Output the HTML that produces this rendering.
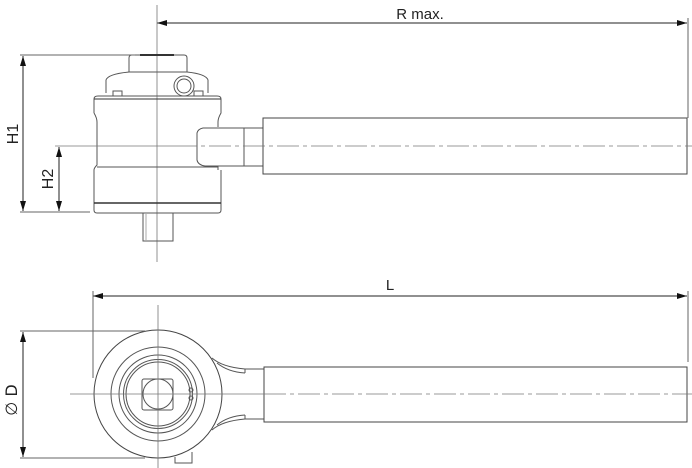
<!DOCTYPE html>
<html><head><meta charset="utf-8"><style>
html,body{margin:0;padding:0;background:#fff;}
svg{display:block;}
text{font-family:"Liberation Sans",sans-serif;fill:#222;}
</style></head><body>
<svg width="692" height="468" viewBox="0 0 692 468" xmlns="http://www.w3.org/2000/svg">
<defs>
<marker id="a" viewBox="0 0 10 6" refX="10" refY="3" markerWidth="10" markerHeight="6" orient="auto-start-reverse" markerUnits="userSpaceOnUse"><path d="M0,0L10,3L0,6z" fill="#111"/></marker>
</defs>
<g fill="none" stroke="#555" stroke-width="1">
<line x1="157" y1="23" x2="687" y2="23" stroke="#222" marker-start="url(#a)" marker-end="url(#a)"/>
<line x1="688" y1="18" x2="688" y2="118" stroke="#666"/>
<line x1="157" y1="5" x2="157" y2="262" stroke="#777" stroke-width="0.8"/>
<path d="M129,72 L129,58 Q129,55 132,55 L184,55 Q187,55 187,58 L187,72" stroke="#555"/>
<line x1="140" y1="55" x2="174" y2="55" stroke="#333" stroke-width="2"/>
<path d="M106,93 L106,80 Q108,74 129,72 L187,72 Q206,74 208,80 L208,93"/>
<circle cx="184" cy="86" r="10"/><circle cx="184" cy="86" r="7"/>
<rect x="113" y="91" width="9" height="5"/><rect x="194" y="91" width="9" height="5"/>
<path d="M94,113 L94,99 Q94,96 98,96 L217,96 Q221,96 221,99 L221,113 Q218,118 218,122"/>
<line x1="94" y1="99" x2="221" y2="99" stroke="#333"/>
<path d="M94,113 Q97,118 97,122 L97,165 Q94,168 94,170"/>
<line x1="218" y1="122" x2="218" y2="127"/>
<line x1="218" y1="166" x2="218" y2="170"/>
<line x1="97" y1="167" x2="218" y2="167"/>
<path d="M94,170 L94,210 Q94,213 97,213 L218,213 Q221,213 221,210 L221,170"/>
<line x1="94" y1="203" x2="221" y2="203" stroke="#333" stroke-width="1.5"/>
<path d="M143,213 L143,241 L173,241 L173,213"/>
<line x1="146" y1="213" x2="146" y2="241" stroke="#aaa"/>
<path d="M263,128 L203,128 Q198,129 197,133 L197,160 Q198,165 205,166 L263,166"/>
<line x1="244" y1="128" x2="244" y2="166"/>
<rect x="263" y="118" width="424" height="56" stroke="#444"/>
<line x1="55" y1="146" x2="175" y2="146" stroke="#777" stroke-width="0.8"/>
<line x1="175" y1="146" x2="692" y2="146" stroke="#777" stroke-width="0.8" stroke-dasharray="22,4,4,4"/>
<line x1="20" y1="55" x2="135" y2="55" stroke="#666"/>
<line x1="20" y1="212" x2="90" y2="212" stroke="#666"/>
<line x1="23" y1="56" x2="23" y2="211" stroke="#222" marker-start="url(#a)" marker-end="url(#a)"/>
<line x1="59" y1="147" x2="59" y2="211" stroke="#222" marker-start="url(#a)" marker-end="url(#a)"/>

<line x1="93" y1="296" x2="687" y2="296" stroke="#222" marker-start="url(#a)" marker-end="url(#a)"/>
<line x1="93" y1="291" x2="93" y2="378" stroke="#666"/>
<line x1="688" y1="291" x2="688" y2="362" stroke="#666"/>
<path d="M212,358 Q222,367 245,369 L264,369"/>
<path d="M217,363 Q228,372 245,373"/>
<path d="M212,430 Q222,421 245,419 L264,419"/>
<path d="M217,425 Q228,416 245,415"/>
<line x1="245" y1="369" x2="245" y2="373"/><line x1="245" y1="415" x2="245" y2="419"/>
<circle cx="158" cy="394" r="64" stroke="#444" fill="#fff"/>
<circle cx="158" cy="394" r="47"/>
<circle cx="158" cy="394" r="39"/>
<circle cx="158" cy="394" r="34.5"/>
<circle cx="158" cy="394" r="32"/>
<rect x="142" y="379" width="31" height="31" rx="2"/>
<circle cx="158" cy="394" r="15"/>
<circle cx="191" cy="390" r="2"/><circle cx="191" cy="398" r="2"/>
<path d="M175,457 L175,463 L192,463 L192,452"/>
<rect x="264" y="367" width="423" height="55" stroke="#444"/>
<line x1="70" y1="394" x2="264" y2="394" stroke="#777" stroke-width="0.8"/>
<line x1="264" y1="394" x2="692" y2="394" stroke="#777" stroke-width="0.8" stroke-dasharray="22,4,4,4"/>
<line x1="158" y1="305" x2="158" y2="468" stroke="#777" stroke-width="0.8"/>
<line x1="20" y1="331" x2="145" y2="331" stroke="#666"/>
<line x1="20" y1="458" x2="145" y2="458" stroke="#666"/>
<line x1="23" y1="332" x2="23" y2="457" stroke="#222" marker-start="url(#a)" marker-end="url(#a)"/>
</g>
<text x="420" y="19" font-size="15" text-anchor="middle">R max.</text>
<text x="390" y="290" font-size="15" text-anchor="middle">L</text>
<text transform="translate(18,134) rotate(-90)" font-size="16" text-anchor="middle">H1</text>
<text transform="translate(53,179) rotate(-90)" font-size="16" text-anchor="middle">H2</text>
<text transform="translate(17,400) rotate(-90)" font-size="16" text-anchor="middle" style="font-family:'DejaVu Sans',sans-serif">∅ D</text>
</svg>
</body></html>
